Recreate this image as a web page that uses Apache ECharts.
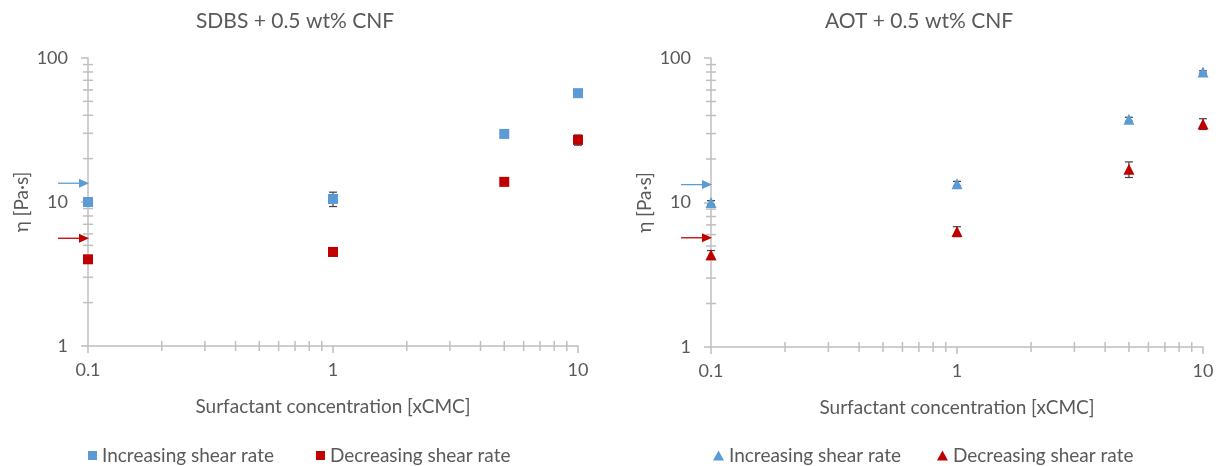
<!DOCTYPE html>
<html>
<head>
<meta charset="utf-8">
<script src="https://cdn.jsdelivr.net/npm/echarts@6/dist/echarts.min.js"></script>
<style>
  html, body { margin: 0; padding: 0; background: #fff; }
  #main { width: 1221px; height: 466px; }
</style>
</head>
<body>
<div id="main"></div>
<script>
// concentrations (xCMC)
const conc = [0.1, 1, 5, 10];

// SDBS + 0.5 wt% CNF, viscosity in Pa·s
const sdbsUp = [10, 10.5, 29.7, 57];
const sdbsDown = [4.0, 4.5, 13.8, 27];
const sdbsUpErr = [0.3, 1.2, 0.8, 1.5];
const sdbsDownErr = [0.2, 0.3, 0.4, 2.2];
const sdbsRef = [13.5, 5.6]; // arrows on y axis: no surfactant, up / down

// AOT + 0.5 wt% CNF
const aotUp = [10, 13.5, 37.7, 80];
const aotDown = [4.35, 6.3, 17, 35];
const aotUpErr = [0.3, 0.5, 1.2, 1.5];
const aotDownErr = [0.3, 0.5, 2.1, 3];
const aotRef = [13.3, 5.7];

// minor tick values
const xMinor = [0.2, 0.3, 0.4, 0.5, 0.6, 0.7, 0.8, 0.9, 2, 3, 4, 5, 6, 7, 8, 9];
const yMinor = [2, 3, 4, 5, 6, 7, 8, 9, 20, 30, 40, 50, 60, 70, 80, 90];

const BLUE = '#5B9BD5';
const RED = '#C00000';
const GRAY = '#595959';
const AXIS = '#BFBFBF';
const FONT = 'Lato';

var myChart = echarts.init(document.getElementById('main'));

function xAxis(i) {
    return {
        type: 'log', gridIndex: i, min: 0.1, max: 10, logBase: 10,
        name: 'Surfactant concentration [xCMC]',
        nameLocation: 'middle', nameGap: 51,
        nameTextStyle: { color: GRAY, fontSize: 19, fontFamily: FONT },
        axisLine: { lineStyle: { color: AXIS, width: 1.5 } },
        axisTick: { length: 7, lineStyle: { color: AXIS, width: 1.5 } },
        axisLabel: { color: GRAY, fontSize: 18, fontFamily: FONT, margin: 15 },
        splitLine: { show: false }
    };
}

function yAxis(i) {
    return {
        type: 'log', gridIndex: i, min: 1, max: 100, logBase: 10,
        name: 'η [Pa·s]',
        nameLocation: 'middle', nameGap: 57,
        nameTextStyle: { color: GRAY, fontSize: 19, fontFamily: FONT },
        axisLine: { lineStyle: { color: AXIS, width: 1.5 } },
        axisTick: { length: 7, lineStyle: { color: AXIS, width: 1.5 } },
        axisLabel: { color: GRAY, fontSize: 18, fontFamily: FONT, margin: 20 },
        splitLine: { show: false }
    };
}

function pairs(ys) {
    return conc.map(function (x, k) { return [x, ys[k]]; });
}

function errData(ys, es) {
    return conc.map(function (x, k) { return [x, ys[k] - es[k], ys[k] + es[k]]; });
}

function errSeries(i, ys, es) {
    return {
        type: 'custom', xAxisIndex: i, yAxisIndex: i, z: 1, silent: true,
        data: errData(ys, es),
        renderItem: function (params, api) {
            var lo = api.coord([api.value(0), api.value(1)]);
            var hi = api.coord([api.value(0), api.value(2)]);
            var st = { stroke: '#404040', lineWidth: 1.2 };
            return {
                type: 'group',
                children: [
                    { type: 'line', shape: { x1: lo[0], y1: lo[1], x2: hi[0], y2: hi[1] }, style: st },
                    { type: 'line', shape: { x1: lo[0] - 4, y1: lo[1], x2: lo[0] + 4, y2: lo[1] }, style: st },
                    { type: 'line', shape: { x1: hi[0] - 4, y1: hi[1], x2: hi[0] + 4, y2: hi[1] }, style: st }
                ]
            };
        }
    };
}

function minorTicks(i) {
    var data = xMinor.map(function (v) { return [v, 1, 0]; })
        .concat(yMinor.map(function (v) { return [0.1, v, 1]; }));
    return {
        type: 'custom', xAxisIndex: i, yAxisIndex: i, z: 0, silent: true, clip: false,
        data: data,
        renderItem: function (params, api) {
            var p = api.coord([api.value(0), api.value(1)]);
            var st = { stroke: AXIS, lineWidth: 1.5 };
            if (api.value(2) === 0) {
                return { type: 'line', shape: { x1: p[0], y1: p[1] - 5, x2: p[0], y2: p[1] + 5 }, style: st };
            }
            return { type: 'line', shape: { x1: p[0] - 5, y1: p[1], x2: p[0] + 5, y2: p[1] }, style: st };
        }
    };
}

function arrows(i, refs) {
    return {
        type: 'custom', xAxisIndex: i, yAxisIndex: i, z: 5, silent: true, clip: false,
        data: [[0.1, refs[0], 0], [0.1, refs[1], 1]],
        renderItem: function (params, api) {
            var p = api.coord([api.value(0), api.value(1)]);
            var c = api.value(2) === 0 ? BLUE : RED;
            return {
                type: 'group',
                children: [
                    { type: 'line', shape: { x1: p[0] - 30, y1: p[1], x2: p[0] - 8, y2: p[1] },
                      style: { stroke: c, lineWidth: 1.3 } },
                    { type: 'polygon', shape: { points: [[p[0] - 9, p[1] - 4.5], [p[0] + 1, p[1]], [p[0] - 9, p[1] + 4.5]] },
                      style: { fill: c } }
                ]
            };
        }
    };
}

function scatter(i, name, ys, color, symbol, size) {
    return {
        type: 'scatter', name: name, xAxisIndex: i, yAxisIndex: i, z: 3,
        symbol: symbol, symbolSize: size,
        itemStyle: { color: color, opacity: 1 },
        data: pairs(ys)
    };
}

option = {
    animation: false,
    backgroundColor: '#fff',
    textStyle: { fontFamily: FONT },
    title: [
        { text: 'SDBS + 0.5 wt% CNF', left: 290, top: 6, textAlign: 'center',
          textStyle: { color: GRAY, fontSize: 21, fontWeight: 'normal', fontFamily: FONT } },
        { text: 'AOT + 0.5 wt% CNF', left: 914, top: 6, textAlign: 'center',
          textStyle: { color: GRAY, fontSize: 21, fontWeight: 'normal', fontFamily: FONT } }
    ],
    legend: [
        { left: 88, top: 446, padding: 0, itemWidth: 9, itemHeight: 9, itemGap: 42,
          textStyle: { color: GRAY, fontSize: 19, fontFamily: FONT },
          data: [{ name: 'Increasing shear rate', icon: 'rect' }, { name: 'Decreasing shear rate', icon: 'rect' }] },
        { left: 713, top: 446, padding: 0, itemWidth: 11, itemHeight: 10, itemGap: 36,
          textStyle: { color: GRAY, fontSize: 19, fontFamily: FONT },
          data: [{ name: 'Increasing shear rate', icon: 'triangle' }, { name: 'Decreasing shear rate', icon: 'triangle' }] }
    ],
    grid: [
        { left: 88, right: 643, top: 58, bottom: 120 },
        { left: 711, right: 18, top: 58, bottom: 119 }
    ],
    xAxis: [xAxis(0), xAxis(1)],
    yAxis: [yAxis(0), yAxis(1)],
    series: [
        minorTicks(0),
        minorTicks(1),
        errSeries(0, sdbsUp, sdbsUpErr),
        errSeries(0, sdbsDown, sdbsDownErr),
        errSeries(1, aotUp, aotUpErr),
        errSeries(1, aotDown, aotDownErr),
        scatter(0, 'Increasing shear rate', sdbsUp, BLUE, 'rect', 10),
        scatter(0, 'Decreasing shear rate', sdbsDown, RED, 'rect', 10),
        scatter(1, 'Increasing shear rate', aotUp, BLUE, 'triangle', 11),
        scatter(1, 'Decreasing shear rate', aotDown, RED, 'triangle', 11),
        arrows(0, sdbsRef),
        arrows(1, aotRef)
    ]
};

myChart.setOption(option);

window.addEventListener('resize', function () {
    myChart.resize();
});
</script>
</body>
</html>
